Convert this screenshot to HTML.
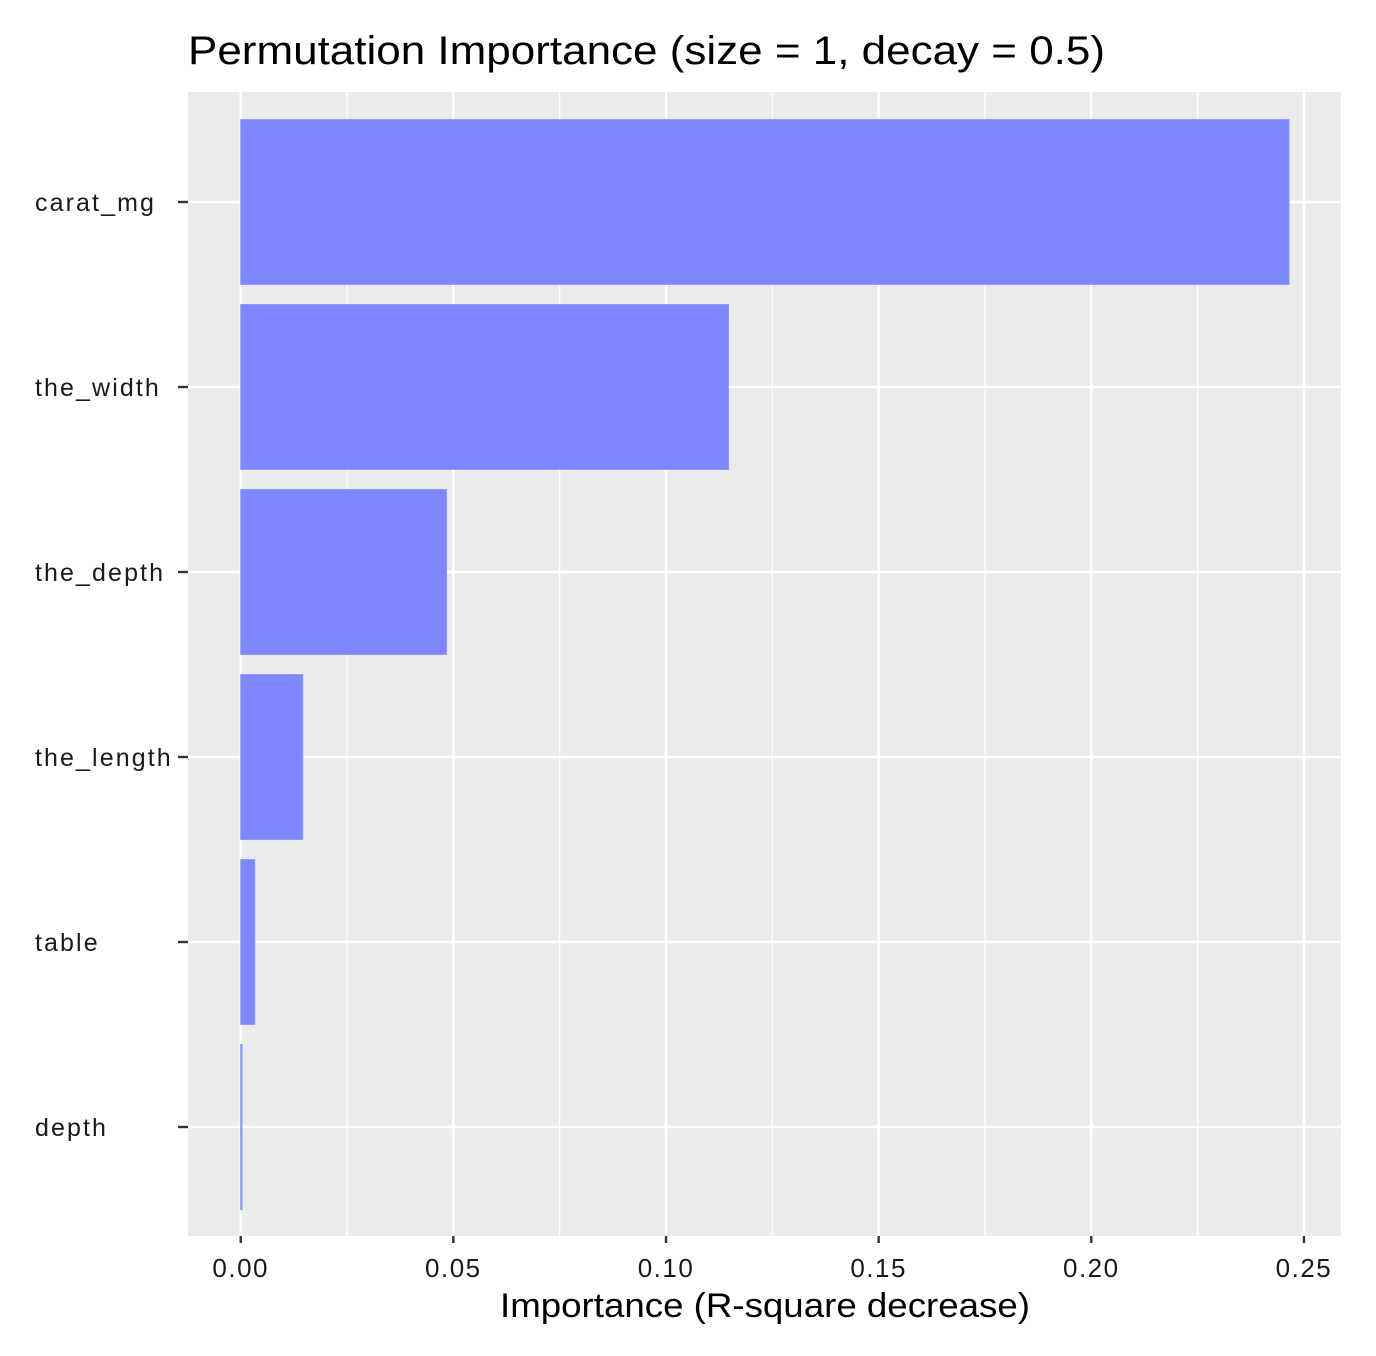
<!DOCTYPE html>
<html><head><meta charset="utf-8"><style>body{margin:0;background:#fff}svg{display:block}</style></head>
<body>
<svg width="1376" height="1356" viewBox="0 0 1376 1356" font-family="Liberation Sans, Arial, sans-serif">
<g id="root"></g>
</svg>
<script>
const categories = ["carat_mg","the_width","the_depth","the_length","table","depth"];
const values = [0.2465,0.1147,0.0484,0.0146,0.0033,0.0003];
const xTicks = [0,0.05,0.10,0.15,0.20,0.25];
const xTickLabels = ["0.00","0.05","0.10","0.15","0.20","0.25"];
const NS="http://www.w3.org/2000/svg";
const root=document.getElementById('root');
const L=188,R=1341,T=92,B=1236;
const x0=240.7, k=4253;
const X=v=>x0+v*k;
const step=185, top0=202;
const Y=i=>top0+i*step;
function mk(t,a,p){const e=document.createElementNS(NS,t);for(const q in a)e.setAttribute(q,a[q]);(p||root).appendChild(e);return e;}
const bg=mk('rect',{x:L,y:T,width:R-L,height:B-T,fill:'#ebebeb'});


for(let i=0;i<xTicks.length-1;i++){const v=(xTicks[i]+xTicks[i+1])/2;const g=mk('line',{x1:X(v),x2:X(v),y1:T,y2:B,stroke:'#fff','stroke-width':1.2});

}
xTicks.forEach((v,i)=>{const g=mk('line',{x1:X(v),x2:X(v),y1:T,y2:B,stroke:'#fff','stroke-width':2.4});


const t=mk('line',{x1:X(v),x2:X(v),y1:B,y2:B+7,stroke:'#333','stroke-width':2.4});


const tx=mk('text',{x:X(v),y:B+41,'text-anchor':'middle','font-size':26,fill:'#1a1a1a','letter-spacing':1.5});tx.textContent=xTickLabels[i];

});
categories.forEach((c,i)=>{const y=Y(i);
const g=mk('line',{x1:L,x2:R,y1:y,y2:y,stroke:'#fff','stroke-width':2.4});


const t=mk('line',{x1:178,x2:L,y1:y,y2:y,stroke:'#333','stroke-width':2.4});


const tx=mk('text',{x:35,y:y+9,'font-size':25,fill:'#1a1a1a','letter-spacing':2.1});tx.textContent=c;

});
categories.forEach((c,i)=>{const y=Y(i);
const b=mk('rect',{x:X(0),y:y-82.5,width:Math.max(X(values[i])-X(0),1),height:165,fill:'#7b86ff',stroke:'#8f99ff','stroke-width':1});

});
const ti=mk('text',{x:188,y:64,'font-size':40,fill:'#000',textLength:917,lengthAdjust:'spacingAndGlyphs'});ti.textContent='Permutation Importance (size = 1, decay = 0.5)';


const xt=mk('text',{x:500,y:1317,'font-size':34,fill:'#000',textLength:530,lengthAdjust:'spacingAndGlyphs'});xt.textContent='Importance (R-square decrease)';


</script>
</body></html>
